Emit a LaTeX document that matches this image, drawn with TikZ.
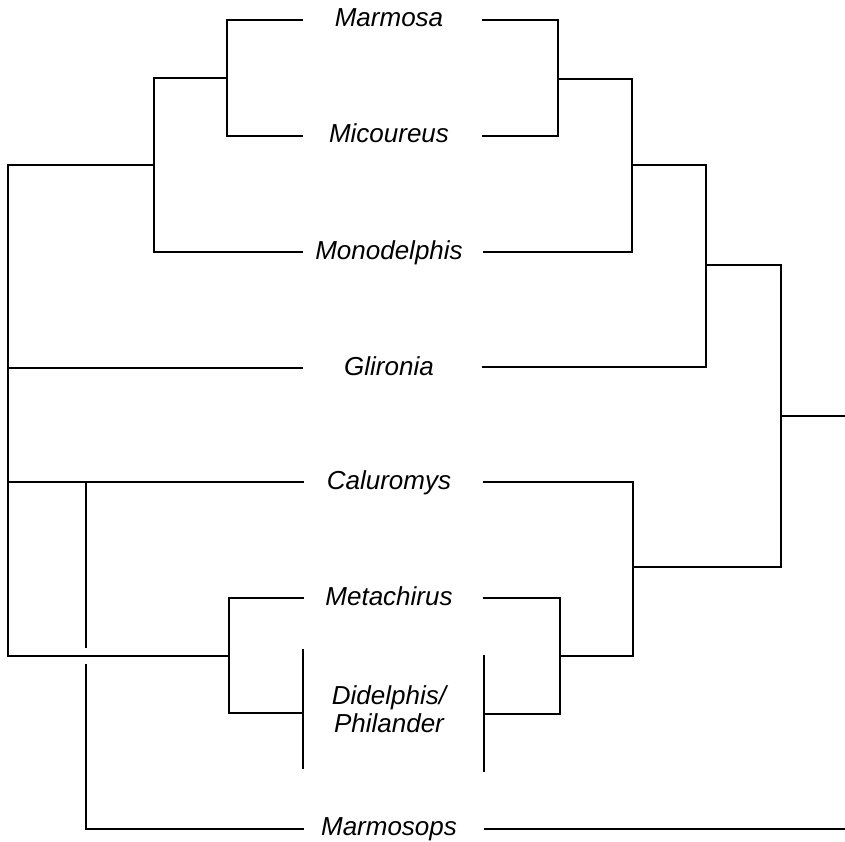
\documentclass[tikz,border=0pt]{standalone}
\usepackage{fontspec}
\setmainfont{Liberation Sans}
\begin{document}
\begin{tikzpicture}[x=1pt,y=-1pt,
  branch/.style={line width=1.6pt, line cap=rect, line join=miter},
  taxon/.style={font=\itshape\fontsize{26}{28}\selectfont, inner sep=0pt, anchor=base, align=center}]
\useasboundingbox (0,0) rectangle (845,842);
% taxon labels
\node[taxon] (marmosa) at (389,27) {Marmosa};
\node[taxon] (micoureus) at (389,143) {Micoureus};
\node[taxon] (monodelphis) at (389,259) {Monodelphis};
\node[taxon] (glironia) at (389,375) {Glironia};
\node[taxon] (caluromys) at (389,489) {Caluromys};
\node[taxon] (metachirus) at (389,605) {Metachirus};
\node[taxon, anchor=center] (didelphis) at (389,709) {Didelphis/\\Philander};
\node[taxon] (marmosops) at (389,835) {Marmosops};
% left tree coordinates
\coordinate (lMa) at (302,20);
\coordinate (lMi) at (302,136);
\coordinate (lMo) at (302,252);
\coordinate (lGl) at (302,368);
\coordinate (lCa) at (303,482);
\coordinate (lMe) at (303,598);
\coordinate (lDi) at (303,713);
\coordinate (lMs) at (303,829);
\coordinate (a1) at (227,78);
\coordinate (b1) at (154,165);
\coordinate (r1) at (8,165);
\coordinate (r2) at (8,656);
\coordinate (d1) at (229,656);
\coordinate (v1) at (86,482);
\coordinate (v2) at (86,647);
\coordinate (v3) at (86,665);
\coordinate (dTop) at (303,650);
\coordinate (dBot) at (303,768);
% left tree
\draw[branch] (lMa) -| (a1) |- (lMi);
\draw[branch] (a1) -| (154,78) -- (154,252) -- (lMo);
\draw[branch] (b1) -- (r1) -- (r2);
\draw[branch] (8,368) -- (lGl);
\draw[branch] (8,482) -- (lCa);
\draw[branch] (r2) -- (d1);
\draw[branch] (lMe) -| (d1) |- (lDi);
\draw[branch] (v1) -- (v2);
\draw[branch] (v3) |- (lMs);
\draw[branch] (dTop) -- (dBot);
% right tree coordinates
\coordinate (rMa) at (483,20);
\coordinate (rMi) at (483,136);
\coordinate (rMo) at (484,252);
\coordinate (rGl) at (483,367);
\coordinate (rCa) at (484,482);
\coordinate (rMe) at (484,598);
\coordinate (rDi) at (484,714);
\coordinate (rMs) at (485,829);
\coordinate (n1) at (558,79);
\coordinate (n2) at (632,165);
\coordinate (n3) at (706,265);
\coordinate (n4) at (633,567);
\coordinate (n5) at (560,656);
\coordinate (root) at (781,416);
\coordinate (out) at (845,416);
\coordinate (outB) at (845,829);
\coordinate (eTop) at (484,656);
\coordinate (eBot) at (484,771);
% right tree
\draw[branch] (rMa) -| (n1) |- (rMi);
\draw[branch] (n1) -| (n2) |- (rMo);
\draw[branch] (n2) -| (n3) |- (rGl);
\draw[branch] (n3) -| (root) |- (n4);
\draw[branch] (root) -- (out);
\draw[branch] (rCa) -| (n4) |- (n5);
\draw[branch] (rMe) -| (n5) |- (rDi);
\draw[branch] (eTop) -- (eBot);
\draw[branch] (rMs) -- (outB);
\end{tikzpicture}
\end{document}
